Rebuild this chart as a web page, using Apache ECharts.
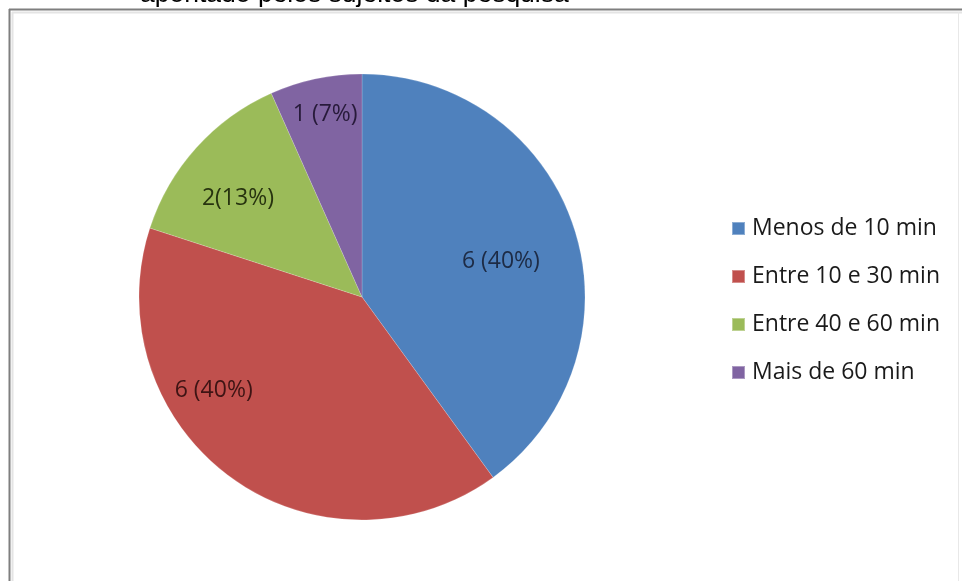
<!DOCTYPE html>
<html>
<head>
<meta charset="utf-8">
<script src="https://cdn.jsdelivr.net/npm/echarts@6/dist/echarts.min.js"></script>
<style>
html,body{margin:0;padding:0;background:#fff;}
#c{width:964px;height:581px;}
</style>
</head>
<body>
<div id="c"></div>
<script>
// Data
const categories = ['Menos de 10 min', 'Entre 10 e 30 min', 'Entre 40 e 60 min', 'Mais de 60 min'];
const values = [6, 6, 2, 1];
const sliceLabels = ['6 (40%)', '6 (40%)', '2(13%)', '1 (7%)'];
const titleText = 'apontado pelos sujeitos da pesquisa';

// Styles
const colors = ['#4F81BD', '#C0504D', '#9BBB59', '#8064A2'];
const labelColors = ['#1d2b45', '#3e1414', '#27330f', '#271a3a'];
const labelShift = [[30, 0], [-81, 1], [-39, -22], [-13, -71]];

const chart = echarts.init(document.getElementById('c'), null, {renderer: 'canvas'});
chart.setOption({
  animation: false,
  backgroundColor: '#ffffff',
  color: colors,
  graphic: [
    {type: 'text', left: 140, top: -19, style: {text: titleText, font: '26.5px "Liberation Sans", Arial', fill: '#000'}},
    {type: 'line', shape: {x1: 9, y1: 9.5, x2: 962, y2: 9.5}, style: {stroke: '#7f7f7f', lineWidth: 2}},
    {type: 'line', shape: {x1: 9.5, y1: 9, x2: 9.5, y2: 590}, style: {stroke: '#7f7f7f', lineWidth: 2}},
    {type: 'line', shape: {x1: 12, y1: 12.5, x2: 962, y2: 12.5}, style: {stroke: '#e4e4e4', lineWidth: 2}},
    {type: 'line', shape: {x1: 12.5, y1: 12, x2: 12.5, y2: 590}, style: {stroke: '#e4e4e4', lineWidth: 2}},
    {type: 'line', shape: {x1: 958.5, y1: 12, x2: 958.5, y2: 590}, style: {stroke: '#e8e8e8', lineWidth: 1}}
  ],
  legend: {
    orient: 'vertical',
    left: 726,
    top: 212,
    icon: 'rect',
    itemWidth: 13,
    itemHeight: 13,
    itemGap: 25,
    data: categories,
    textStyle: {fontFamily: '"Open Sans"', fontSize: 23, color: '#1a1a1a', lineHeight: 23, padding: [0, 0, 0, 2]}
  },
  series: [{
    type: 'pie',
    center: [362, 297],
    radius: 223,
    startAngle: 90,
    clockwise: true,
    avoidLabelOverlap: false,
    label: {
      show: true,
      position: 'inside',
      fontFamily: '"Open Sans"',
      fontSize: 23
    },
    labelLine: {show: false},
    labelLayout: function (p) {
      return {dx: labelShift[p.dataIndex][0], dy: labelShift[p.dataIndex][1]};
    },
    emphasis: {disabled: true},
    itemStyle: {borderColor: 'rgba(255,255,255,0.35)', borderWidth: 0.5},
    data: categories.map(function (n, i) {
      return {
        name: n,
        value: values[i],
        label: {formatter: sliceLabels[i], color: labelColors[i]}
      };
    })
  }]
});
</script>
</body>
</html>
